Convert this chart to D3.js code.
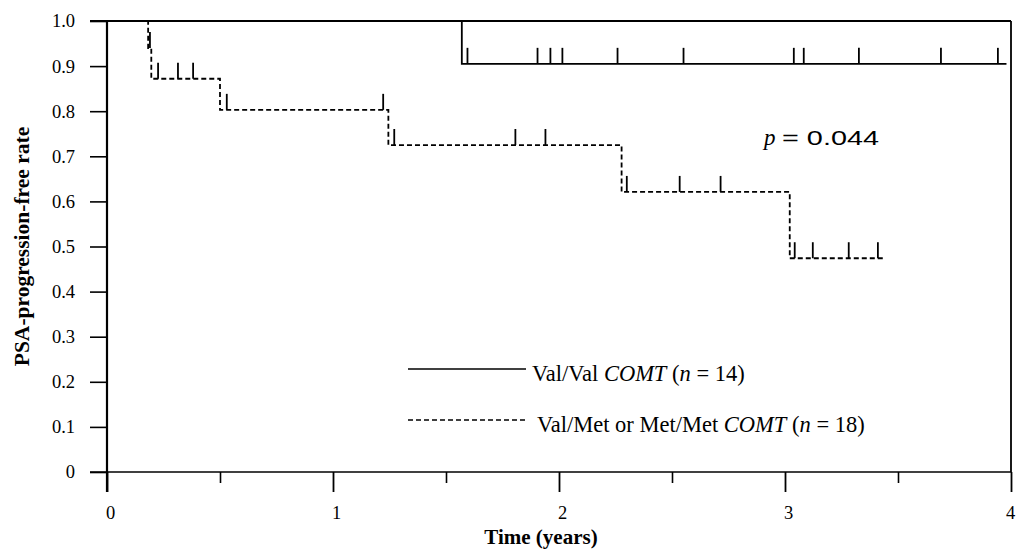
<!DOCTYPE html>
<html><head><meta charset="utf-8">
<script src="https://cdn.jsdelivr.net/npm/d3@7"></script>
<style>body{margin:0;background:#fff}svg{display:block}text{font-family:"Liberation Serif","Times New Roman",serif;fill:#000}</style>
</head><body>
<svg id="c" width="1016" height="552"></svg>
<script>
// ---- data ----
const yTickValues = [0,0.1,0.2,0.3,0.4,0.5,0.6,0.7,0.8,0.9,1.0];
const yTickLabels = ["0","0.1","0.2","0.3","0.4","0.5","0.6","0.7","0.8","0.9","1.0"];
const xTickValues = [0,1,2,3,4];
const xMinorTicks = [0.5,1.5,2.5,3.5];

// Val/Val COMT (solid)
const vvEventTimes = [1.57];
const vvLevels = [1.0, 0.905];
const vvEnd = 3.98;
const vvCensor = [1.595,1.905,1.962,2.015,2.259,2.551,3.039,3.083,3.327,3.690,3.942];

// Val/Met or Met/Met COMT (dashed)
const vmEventTimes = [0.182,0.196,0.50,1.245,2.277,3.021];
const vmLevels = [1.0,0.94,0.872,0.803,0.725,0.621,0.474];
const vmEnd = 3.44;
const vmCensor = [0.19,0.226,0.314,0.381,0.53,1.222,1.271,1.807,1.940,2.30,2.534,2.715,3.043,3.123,3.282,3.411];

const legendLabels = [
  {pre:"Val/Val ", it:"COMT", post:" (", n:"n", rest:" = 14)"},
  {pre:"Val/Met or Met/Met ", it:"COMT", post:" (", n:"n", rest:" = 18)"}
];
const pLabel = "0.044";

// ---- drawing ----
const svg = d3.select("#c");
const x = d3.scaleLinear().domain([0,4]).range([107,1011]);
const y = d3.scaleLinear().domain([0,1]).range([472,21]);

function stepPoints(times, levels, end){
  const pts = [[0, levels[0]]];
  times.forEach((t,i)=>{ pts.push([t, levels[i]]); pts.push([t, levels[i+1]]); });
  pts.push([end, levels[levels.length-1]]);
  return pts;
}
function levelAt(t, times, levels){
  let l = levels[0];
  times.forEach((e,i)=>{ if (t >= e) l = levels[i+1]; });
  return l;
}
const line = d3.line().x(d=>x(d[0])).y(d=>y(d[1]));

// axes
const yAxis = d3.axisLeft(y).tickValues(yTickValues).tickFormat((d,i)=>yTickLabels[i]).tickSize(17).tickPadding(15);
const gy = svg.append("g").attr("transform",`translate(${x(0)},0)`).call(yAxis);
gy.attr("font-family",null).attr("font-size",null);
gy.select(".domain").remove();
gy.selectAll("line").attr("stroke","#000").attr("stroke-width",1.6);
gy.selectAll("text").style("font-size","18.5px");

const xAxis = d3.axisBottom(x).tickValues(xTickValues).tickFormat(d3.format("d")).tickSize(20).tickPadding(14);
const gx = svg.append("g").attr("transform",`translate(0,${y(0)})`).call(xAxis);
gx.attr("font-family",null).attr("font-size",null);
gx.select(".domain").remove();
gx.selectAll("line").attr("stroke","#000").attr("stroke-width",1.8);
gx.selectAll("text").style("font-size","18.5px").attr("dx",d=>d===4 ? -1 : 3);
const xAxisMinor = d3.axisBottom(x).tickValues(xMinorTicks).tickFormat("").tickSize(11);
const gxm = svg.append("g").attr("transform",`translate(0,${y(0)})`).call(xAxisMinor);
gxm.select(".domain").remove();
gxm.selectAll("line").attr("stroke","#000").attr("stroke-width",1.6);

// frame lines
svg.append("line").attr("x1",x(0)-17).attr("x2",x(4)).attr("y1",y(0)).attr("y2",y(0)).attr("stroke","#000").attr("stroke-width",1.6);
svg.append("line").attr("x1",x(0)).attr("x2",x(0)).attr("y1",y(1)).attr("y2",y(0)+20).attr("stroke","#000").attr("stroke-width",2.2);
svg.append("line").attr("x1",x(0)-17).attr("x2",x(4)).attr("y1",y(1)).attr("y2",y(1)).attr("stroke","#000").attr("stroke-width",1.8);
svg.append("line").attr("x1",x(4)).attr("x2",x(4)).attr("y1",y(1)).attr("y2",y(0)).attr("stroke","#000").attr("stroke-width",1.8);

// curves
svg.append("path").datum(stepPoints(vvEventTimes, vvLevels, vvEnd)).attr("d",line)
  .attr("fill","none").attr("stroke","#000").attr("stroke-width",1.8);
svg.append("path").datum(stepPoints(vmEventTimes, vmLevels, vmEnd)).attr("d",line)
  .attr("fill","none").attr("stroke","#000").attr("stroke-width",1.8).attr("stroke-dasharray","5,3");

// censor marks
function censor(times, evT, lv){
  svg.append("g").selectAll("line").data(times).join("line")
    .attr("x1",d=>x(d)).attr("x2",d=>x(d))
    .attr("y1",d=>y(levelAt(d,evT,lv))).attr("y2",d=>y(levelAt(d,evT,lv))-16)
    .attr("stroke","#000").attr("stroke-width",1.8);
}
censor(vvCensor, vvEventTimes, vvLevels);
censor(vmCensor, vmEventTimes, vmLevels);

// p value
svg.append("text").attr("x",764).attr("y",145).style("font-size","23px").attr("font-style","italic").text("p");
svg.append("text").attr("x",782).attr("y",145).style("font-size","20px")
  .style("font-family","'Liberation Sans',Arial,sans-serif")
  .attr("textLength",97).attr("lengthAdjust","spacingAndGlyphs").text("= " + pLabel);

// legend
const legY = [369, 420];
legendLabels.forEach((L,i)=>{
  svg.append("line").attr("x1",408).attr("x2",526).attr("y1",legY[i]).attr("y2",legY[i])
    .attr("stroke","#000").attr("stroke-width",1.6).attr("stroke-dasharray", i===1 ? "5,3" : null);
  const t = svg.append("text").attr("x", i===0 ? 532 : 537).attr("y", legY[i]+12).style("font-size","22.5px");
  t.append("tspan").text(L.pre);
  t.append("tspan").attr("font-style","italic").text(L.it);
  t.append("tspan").text(L.post);
  t.append("tspan").attr("font-style","italic").text(L.n);
  t.append("tspan").text(L.rest);
});

// axis titles
svg.append("text").attr("x",541).attr("y",544).attr("text-anchor","middle")
  .style("font-size","21px").attr("font-weight","bold").text("Time (years)");
svg.append("text").attr("transform",`translate(29,${(y(0)+y(1))/2}) rotate(-90)`).attr("text-anchor","middle")
  .style("font-size","21.5px").attr("font-weight","bold").text("PSA-progression-free rate");
</script>
</body></html>
